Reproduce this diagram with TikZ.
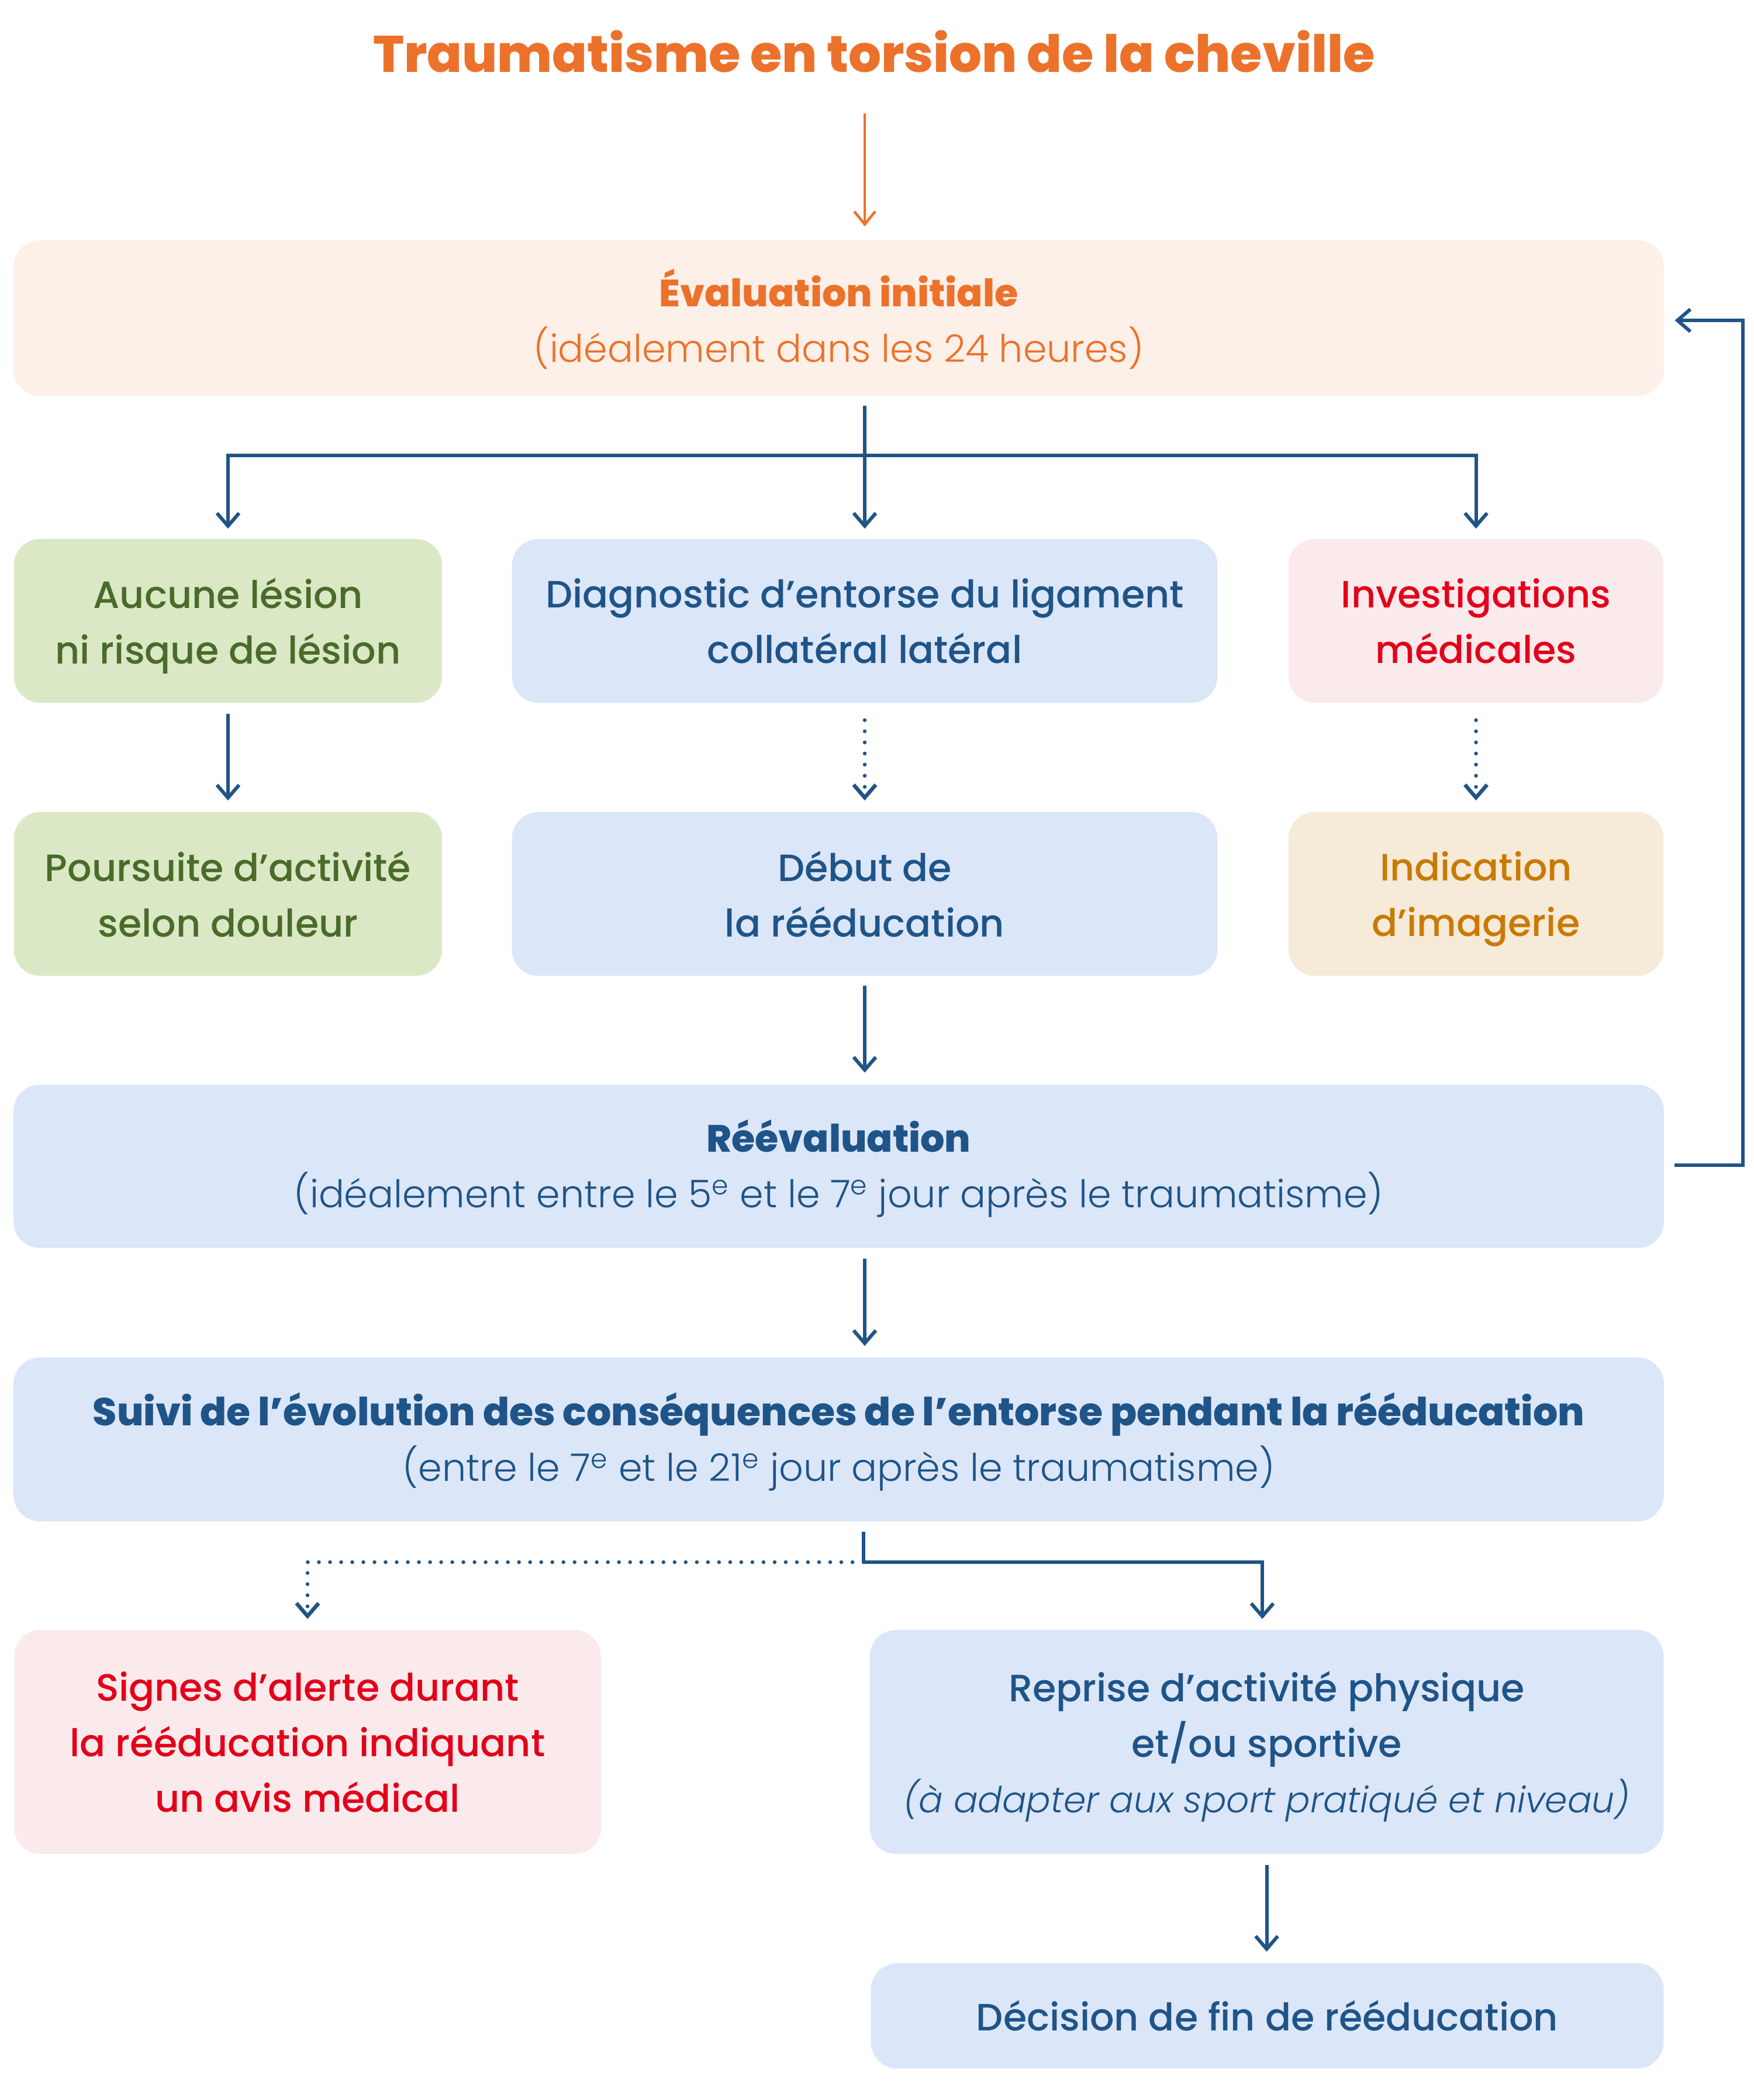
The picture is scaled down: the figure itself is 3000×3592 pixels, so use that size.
\documentclass[tikz,border=0pt]{standalone}
\usepackage{fontspec}
\setmainfont{Poppins}[UprightFont=* Medium, BoldFont=* ExtraBold, ItalicFont=* Light Italic]
\newfontfamily\lightfnt{Poppins Light}
\usetikzlibrary{arrows.meta}
\definecolor{orng}{HTML}{EC722C}
\definecolor{orngfill}{HTML}{FDF0E8}
\definecolor{dblue}{HTML}{1F5488}
\definecolor{bluefill}{HTML}{DBE6F8}
\definecolor{dgreen}{HTML}{4A6B2A}
\definecolor{greenfill}{HTML}{DAE8C5}
\definecolor{dred}{HTML}{E2001A}
\definecolor{redfill}{HTML}{FBEAEB}
\definecolor{amber}{HTML}{C97A05}
\definecolor{amberfill}{HTML}{F6EAD8}
\newcommand{\bodyfnt}{\fontsize{18.5}{27}\selectfont}
\newcommand{\lightsub}{\lightfnt}
\begin{document}
\begin{tikzpicture}[x=0.01cm,y=-0.01cm,
  box/.style={rectangle, rounded corners=0.45cm, draw=none, align=center, inner sep=0pt, text depth=0pt, font=\bodyfnt},
  widebox/.style={box, text depth=0.09cm},
  conn/.style={draw=dblue, line width=0.06cm},
  arr/.style={conn, -{Straight Barb[length=0.22cm,width=0.38cm]}},
  dotarr/.style={arr, line cap=round, dash pattern=on 0pt off 0.19cm, line width=0.065cm},
  oarr/.style={draw=orng, line width=0.045cm, -{Straight Barb[length=0.22cm,width=0.36cm]}}
]
\useasboundingbox (0,0) rectangle (3000,3592);

\node[anchor=base, text=orng, font=\fontsize{25}{30}\selectfont\bfseries] (title) at (1495,123) {Traumatisme en torsion de la cheville};

\node[widebox, fill=orngfill, text=orng, minimum width=28.21cm, minimum height=2.66cm] (eval) at (1434.5,544)
  {{\bfseries Évaluation initiale}\\{\lightsub (idéalement dans les 24 heures)}};

\node[box, fill=greenfill, text=dgreen, minimum width=7.32cm, minimum height=2.80cm] (A1) at (390,1062)
  {Aucune lésion\\ni risque de lésion};
\node[box, fill=bluefill, text=dblue, minimum width=12.06cm, minimum height=2.80cm] (B1) at (1479,1062)
  {Diagnostic d’entorse du ligament\\collatéral latéral};
\node[box, fill=redfill, text=dred, minimum width=6.41cm, minimum height=2.80cm] (C1) at (2524.5,1062)
  {Investigations\\médicales};

\node[box, fill=greenfill, text=dgreen, minimum width=7.32cm, minimum height=2.80cm] (A2) at (390,1529)
  {Poursuite d’activité\\selon douleur};
\node[box, fill=bluefill, text=dblue, minimum width=12.06cm, minimum height=2.80cm] (B2) at (1479,1529)
  {Début de\\la rééducation};
\node[box, fill=amberfill, text=amber, minimum width=6.41cm, minimum height=2.80cm] (C2) at (2524.5,1529)
  {Indication\\d’imagerie};

\node[widebox, fill=bluefill, text=dblue, minimum width=28.21cm, minimum height=2.79cm] (reeval) at (1434.5,1995)
  {{\bfseries Réévaluation}\\{\lightsub (idéalement entre le 5\textsuperscript{e} et le 7\textsuperscript{e} jour après le traumatisme)}};

\node[widebox, fill=bluefill, text=dblue, minimum width=28.21cm, minimum height=2.80cm] (suivi) at (1434.5,2462)
  {{\fontsize{18.9}{27}\selectfont\bfseries Suivi de l’évolution des conséquences de l’entorse pendant la rééducation}\\{\lightsub (entre le 7\textsuperscript{e} et le 21\textsuperscript{e} jour après le traumatisme)}};

\node[box, fill=redfill, text=dred, minimum width=10.03cm, minimum height=3.83cm] (signes) at (526,2979.5)
  {Signes d’alerte durant\\la rééducation indiquant\\un avis médical};
\node[box, fill=bluefill, text=dblue, minimum width=13.57cm, minimum height=3.83cm] (reprise) at (2166.5,2979.5)
  {Reprise d’activité physique\\et/ou sportive\\{\fontsize{17.5}{27}\selectfont\itshape (à adapter aux sport pratiqué et niveau)}};
\node[box, fill=bluefill, text=dblue, minimum width=13.55cm, minimum height=1.80cm] (decision) at (2167.5,3448)
  {Décision de fin de rééducation};

% connectors
\coordinate (ostart) at (1479,194);
\coordinate (split1) at (1479,779);
\coordinate (split2) at (1477,2672);

\draw[oarr, shorten >=0.23cm] (ostart) -- (eval.north -| ostart);

\draw[arr, shorten <=0.16cm, shorten >=0.17cm] (eval.south -| B1.north) -- (B1.north);
\draw[arr, shorten >=0.17cm] (split1) -| (A1.north);
\draw[arr, shorten >=0.17cm] (split1) -| (C1.north);

\draw[arr, shorten <=0.18cm, shorten >=0.19cm] (A1.south) -- (A2.north);
\draw[dotarr, shorten <=0.29cm, shorten >=0.19cm] (B1.south) -- (B2.north);
\draw[dotarr, shorten <=0.29cm, shorten >=0.19cm] (C1.south) -- (C2.north);

\draw[arr, shorten <=0.16cm, shorten >=0.20cm] (B2.south) -- (reeval.north -| B2.south);
\draw[arr, shorten <=0.18cm, shorten >=0.19cm] (reeval.south -| B2.south) -- (suivi.north -| B2.south);

\draw[arr, shorten <=0.17cm, shorten >=0.18cm] (reeval.east |- 0,1993) -- ++(134,0) |- (eval.east |- 0,548);

\draw[conn, shorten <=0.17cm] (suivi.south -| split2) -- (split2);
\draw[arr, shorten >=0.18cm] (split2) -| (reprise.north -| 2159,0);
\draw[dotarr, shorten >=0.18cm] (split2) -| (signes.north);

\draw[arr, shorten <=0.18cm, shorten >=0.19cm] (reprise.south) -- (decision.north -| reprise.south);
\end{tikzpicture}
\end{document}
